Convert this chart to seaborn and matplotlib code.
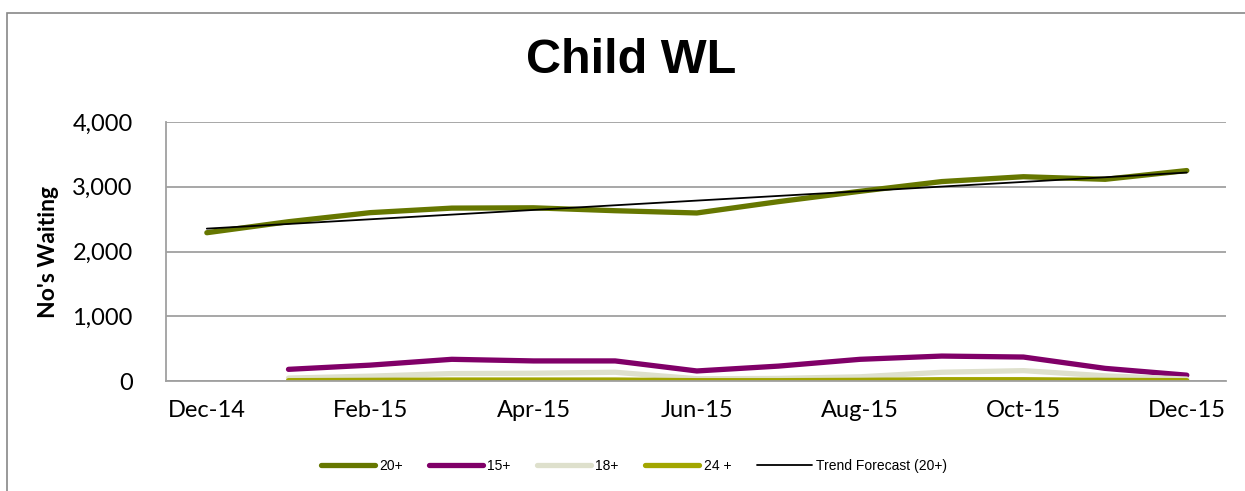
import numpy as np
import pandas as pd
import matplotlib
matplotlib.use("Agg")
import matplotlib.pyplot as plt
import seaborn as sns
from matplotlib.patches import Rectangle

# ---- data ----
months = ["Dec-14", "Jan-15", "Feb-15", "Mar-15", "Apr-15", "May-15", "Jun-15",
          "Jul-15", "Aug-15", "Sep-15", "Oct-15", "Nov-15", "Dec-15"]
tick_labels = ["Dec-14", "Feb-15", "Apr-15", "Jun-15", "Aug-15", "Oct-15", "Dec-15"]
s20 = [2290, 2460, 2600, 2670, 2675, 2630, 2595, 2770, 2930, 3080, 3155, 3115, 3250]
s15 = [np.nan, 180, 245, 335, 310, 310, 155, 230, 335, 385, 370, 195, 90]
s18 = [np.nan, 45, 75, 115, 120, 135, 35, 40, 65, 135, 160, 80, 30]
s24 = [np.nan, 5, 10, 15, 15, 15, 5, 5, 10, 20, 20, 10, 5]
series_names = ["20+", "15+", "18+", "24 +"]
colors = ["#667700", "#800068", "#DEE0CC", "#A2A600"]

sns.set_theme(style="white")
plt.rcParams['font.family'] = ['Lato', 'DejaVu Sans']
plt.rcParams['text.color'] = 'black'
plt.rcParams['axes.labelcolor'] = 'black'

fig = plt.figure(figsize=(12.45, 4.91), dpi=100)
ax = fig.add_axes([166/1245, 1-381/491, (1226-166)/1245, (381-122)/491])

x = np.arange(len(months))
lw = 3.8
for name, vals, col in zip(series_names, [s20, s15, s18, s24], colors):
    sns.lineplot(x=x, y=np.array(vals, dtype=float), ax=ax, color=col, lw=lw,
                 label=name, solid_capstyle='round', solid_joinstyle='round')

# linear trend of 20+
coef = np.polyfit(x, np.array(s20, dtype=float), 1)
trend = np.polyval(coef, x)
sns.lineplot(x=x, y=trend, ax=ax, color="black", lw=1.3, label="Trend Forecast (20+)")

ax.set_xlim(-0.5, 12.48)
ax.set_ylim(0, 4000)
ax.set_yticks([0, 1000, 2000, 3000, 4000])
ax.set_yticklabels(["0", "1,000", "2,000", "3,000", "4,000"])
ax.set_xticks(x[::2])
ax.set_xticklabels(tick_labels)
ax.tick_params(axis='both', length=0, labelsize=17, colors="black")
ax.tick_params(axis='y', pad=24)
ax.tick_params(axis='x', pad=14)
ax.grid(axis='y', color="#A0A0A0", lw=1.3)
ax.set_axisbelow(True)
for s in ["top", "right"]:
    ax.spines[s].set_visible(False)
for s in ["left", "bottom"]:
    ax.spines[s].set_color("#A0A0A0")
    ax.spines[s].set_linewidth(1.3)
ax.set_xlabel("")
ax.set_ylabel("No's Waiting", fontsize=16.5, fontweight="bold", color="black")
ax.yaxis.set_label_coords(-0.101, 0.5)

fig.text(0.507, 0.876, "Child WL", ha="center", va="center", fontsize=35,
         fontweight="bold", color="black", family=["Liberation Sans", "DejaVu Sans"])

leg = ax.legend(loc="center", bbox_to_anchor=(0.509, 0.051), bbox_transform=fig.transFigure,
                ncol=5, frameon=False, prop={"family": ["Liberation Sans"], "size": 10},
                handlelength=3.9, handletextpad=0.3, columnspacing=1.9, labelcolor="black")

fig.patches.append(Rectangle((7/1245, -0.05), 1.1, 1 - 12.7/491 + 0.05,
                             transform=fig.transFigure, fill=False,
                             edgecolor="#888888", lw=1.2))

fig.savefig("out.png", dpi=100)
